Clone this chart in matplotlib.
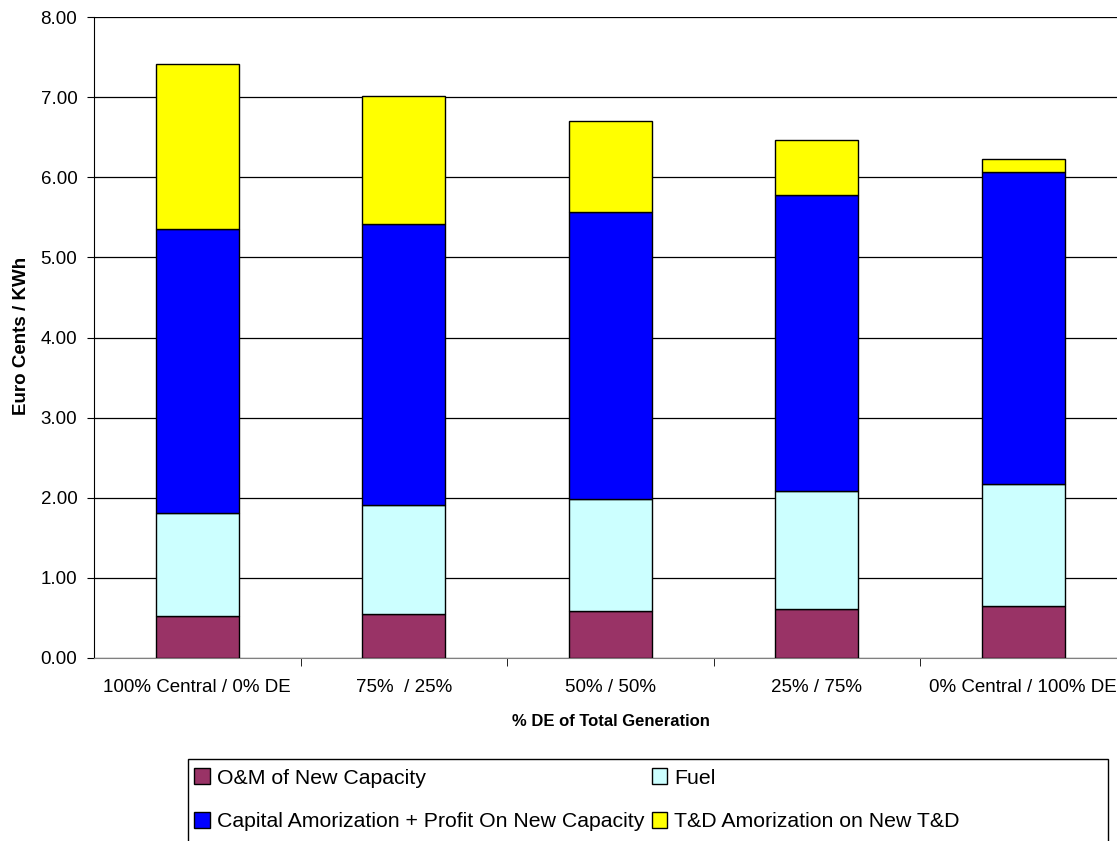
import matplotlib
matplotlib.use("Agg")
import matplotlib.pyplot as plt
from matplotlib.patches import Rectangle
import numpy as np

plt.rcParams['font.family'] = ['Liberation Sans', 'DejaVu Sans']

categories = ["100% Central / 0% DE", "75%  / 25%", "50% / 50%", "25% / 75%", "0% Central / 100% DE"]
om = [0.53, 0.55, 0.59, 0.61, 0.65]
fuel = [1.28, 1.36, 1.40, 1.48, 1.52]
capital = [3.55, 3.51, 3.58, 3.69, 3.89]
td = [2.05, 1.60, 1.13, 0.68, 0.17]
series_names = ["O&M of New Capacity", "Fuel",
                "Capital Amorization + Profit On New Capacity", "T&D Amorization on New T&D"]
series_colors = ["#993366", "#CCFFFF", "#0000FF", "#FFFF00"]
yticks = [0, 1, 2, 3, 4, 5, 6, 7, 8]

W, H = 1117, 841
fig = plt.figure(figsize=(W / 100, H / 100), dpi=100)
ax_left, ax_right, ax_bottom, ax_top = 94, 1126.5, 658, 17
ax = fig.add_axes([ax_left / W, 1 - ax_bottom / H, (ax_right - ax_left) / W, (ax_bottom - ax_top) / H])

x = np.arange(len(categories))
bottom = np.zeros(len(categories))
bars = []
for vals, name, col in zip([om, fuel, capital, td], series_names, series_colors):
    b = ax.bar(x, vals, width=0.4, bottom=bottom, color=col, edgecolor="black", linewidth=1.0,
               label=name, zorder=3)
    bars.append(b)
    bottom = bottom + np.array(vals)

ax.set_xlim(-0.5, len(categories) - 0.5)
ax.set_ylim(0, 8)
ax.set_yticks(yticks)
ax.set_yticklabels([f"{v:.2f}" for v in yticks], fontsize=13.5)
ax.yaxis.grid(True, color="black", linewidth=0.9, zorder=0)
ax.set_axisbelow(True)

ax.set_xticks(x)
ax.set_xticklabels(categories, fontsize=13.5)
ax.tick_params(axis="x", length=0, pad=15)
ax.set_xticks(np.arange(len(categories)) + 0.5, minor=True)
ax.tick_params(axis="x", which="minor", length=6, color="black", direction="out")
ax.tick_params(axis="y", length=5, pad=7, direction="out")

for s in ["top", "right"]:
    ax.spines[s].set_visible(False)
ax.spines["left"].set_color("black")
ax.spines["bottom"].set_color("#808080")

ax.set_ylabel("Euro Cents / KWh", fontsize=13.5, fontweight="bold")
ax.yaxis.set_label_coords(-(94 - 30) / (ax_right - ax_left), (ax_bottom - 336) / (ax_bottom - ax_top))
fig.text(611 / W, 1 - 721 / H, "% DE of Total Generation", fontsize=12, fontweight="bold",
         ha="center", va="center")

# legend frame
fig.patches.append(Rectangle((188 / W, 1 - 870 / H), (1108 - 188) / W, (870 - 759) / H,
                             transform=fig.transFigure, fill=False, edgecolor="black",
                             linewidth=1.0, figure=fig))
handles = [bars[0], bars[2], bars[1], bars[3]]
labels = [series_names[0], series_names[2], series_names[1], series_names[3]]
fig.legend(handles, labels, loc="upper left", bbox_to_anchor=(188 / W, 1 - 762 / H), ncol=2,
           frameon=False, fontsize=15.3, handlelength=0.75, handleheight=0.75,
           handletextpad=0.3, columnspacing=0.35, labelspacing=1.15, borderpad=0.3,
           borderaxespad=0)

fig.savefig("out.png", dpi=100)
